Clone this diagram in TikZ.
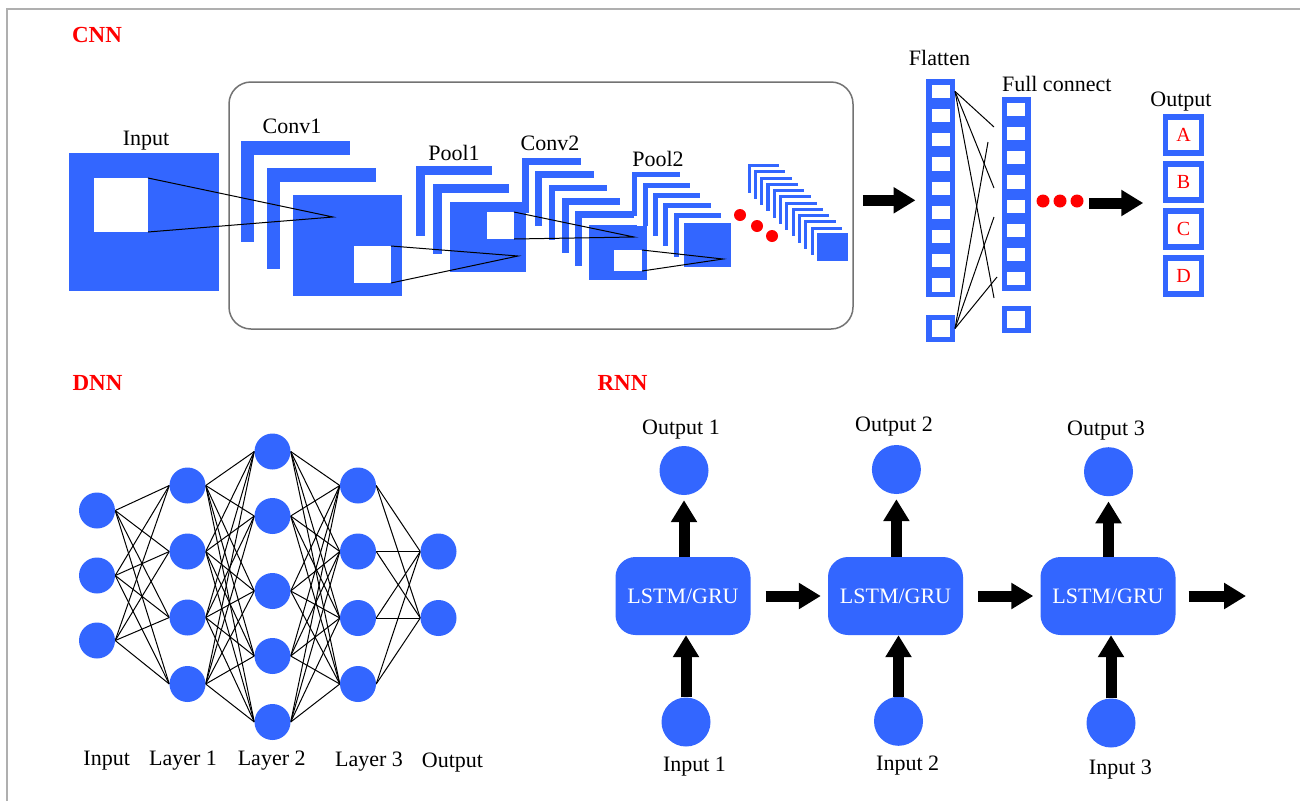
\documentclass[tikz,border=0pt]{standalone}
\usepackage{fontspec}
\setmainfont{Liberation Serif}
\usetikzlibrary{arrows.meta,backgrounds,positioning}

\definecolor{netblue}{RGB}{51,102,255}
\definecolor{netred}{RGB}{255,0,0}
\definecolor{framegray}{RGB}{115,115,115}
\definecolor{edgegray}{RGB}{175,175,175}
\newcommand{\labfont}{\fontsize{22}{26}\selectfont}

\tikzset{
    lbl/.style={font=\labfont, inner sep=0pt, anchor=base},
    ttl/.style={font=\fontsize{23}{27}\selectfont\bfseries, text=netred, inner sep=0pt},
    neuron/.style={circle, fill=netblue, minimum size=36pt, inner sep=0pt},
    unit/.style={circle, fill=netblue, minimum size=49pt, inner sep=0pt},
    cell/.style={draw=netblue, fill=white, line width=5.5pt, minimum width=23.5pt, minimum height=18.7pt, inner sep=0pt},
    outbox/.style={draw=netblue, line width=5.5pt, minimum size=36pt, inner sep=0pt, text=netred, font=\fontsize{20}{24}\selectfont},
    lstm/.style={fill=netblue, rounded corners=20pt, minimum width=135pt, minimum height=78pt, text=white, font=\labfont, inner sep=0pt},
    fat/.style={line width=11pt, -{Triangle[length=22pt,width=25pt]}},
    wire/.style={line width=1pt, black},
}

% stack of feature maps: x y w h dx dy n
\newcommand{\fmaps}[7]{%
    \foreach \k in {1,...,#7}{%
        \pgfmathsetmacro{\sx}{#1+(\k-1)*#5}%
        \pgfmathsetmacro{\sy}{#2+(\k-1)*#6}%
        \ifnum\k>1 \fill[white] (\sx-#5/2,\sy-#6/2) rectangle (\sx+#3,\sy+#4);\fi
        \fill[netblue] (\sx,\sy) rectangle (\sx+#3,\sy+#4);
    }%
}

\begin{document}
\begin{tikzpicture}[x=1pt,y=-1pt]
    \useasboundingbox (0,0) rectangle (1300,801);
    \begin{scope}[on background layer]
    \fill[white] (0,0) rectangle (1300,801);
    \end{scope}
    \draw[edgegray, line width=1.5pt] (7,801) -- (7,9) -- (1300,9);

    % CNN
    \node[ttl] (cnn) at (97,35) {CNN};
    \node[draw=framegray, line width=1.5pt, rounded corners=22pt, minimum width=624pt, minimum height=247pt, inner sep=0pt] (frame) at (541,205.5) {};

    \fill[netblue] (69,153) rectangle (219,291);
    \fill[white] (94,178) rectangle (148,232);
    \fmaps{241}{141}{109}{101}{26}{27}{3}
    \fill[white] (354,246) rectangle (391,283);
    \fmaps{416}{166}{76}{70}{17.2}{18}{3}
    \fill[white] (487,212) rectangle (514,239);
    \fmaps{522}{158}{58.5}{55}{13.3}{13.3}{6}
    \fill[white] (614,250) rectangle (642,271);
    \fmaps{632.3}{172.3}{47.5}{43.5}{10.3}{10.2}{6}
    \fmaps{747.5}{164}{31.5}{28.5}{6.3}{6.25}{12}

    \coordinate (inA) at (148,178);
    \coordinate (inB) at (148,232);
    \coordinate (c1tip) at (333,217);
    \coordinate (c1A) at (391,246);
    \coordinate (c1B) at (391,283);
    \coordinate (p1tip) at (518,256);
    \coordinate (p1A) at (514,212);
    \coordinate (p1B) at (514,239);
    \coordinate (c2tip) at (634,237);
    \coordinate (c2A) at (642,250);
    \coordinate (c2B) at (642,271);
    \coordinate (p2tip) at (723,259);
    \draw[wire] (inA) -- (c1tip) -- (inB);
    \draw[wire] (c1A) -- (p1tip) -- (c1B);
    \draw[wire] (p1A) -- (c2tip) -- (p1B);
    \draw[wire] (c2A) -- (p2tip) -- (c2B);

    \fill[netred] (740,215) circle (6pt);
    \fill[netred] (757,226) circle (6pt);
    \fill[netred] (772,236) circle (6pt);

    \node[lbl] (inlab) at (146,145) {Input};
    \node[lbl] (conv1) at (292,133.5) {Conv1};
    \node[lbl] (pool1) at (454,160.5) {Pool1};
    \node[lbl] (conv2) at (550,150.5) {Conv2};
    \node[lbl] (pool2) at (658,166) {Pool2};

    % flatten and fully connected columns
    \foreach \i in {1,...,9}
        \node[cell] (f\i) at (940.5,{91.4+(\i-1)*24.2}) {};
    \node[cell, minimum height=22pt] (f10) at (940.5,328.5) {};
    \foreach \i in {1,...,8}
        \node[cell] (c\i) at (1016.3,{109.4+(\i-1)*24.2}) {};
    \node[cell, minimum height=22pt] (c9) at (1016.3,319.5) {};
    \node[lbl] (flat) at (939.5,65) {Flatten};
    \node[lbl] (full) at (1056.7,91) {Full connect};

    \coordinate (w1) at (994,127);
    \coordinate (w2) at (994,188);
    \coordinate (w3) at (994,298);
    \coordinate (w4) at (988,142);
    \coordinate (w5) at (994,217);
    \coordinate (w6) at (997,277);
    \foreach \w in {w1,w2,w3} \draw[wire] (f1.east) -- (\w);
    \foreach \w in {w4,w5,w6} \draw[wire] (f10.east) -- (\w);

    \draw[fat, shorten <=9pt, shorten >=10.5pt] (frame.east |- f6.north west) -- (f6.north west);

    \fill[netred] (1043,201) circle (6.5pt);
    \fill[netred] (1060,201) circle (6.5pt);
    \fill[netred] (1077,201) circle (6.5pt);

    \node[outbox] (oa) at (1183.5,134.8) {A};
    \node[outbox] (ob) at (1183.5,181.8) {B};
    \node[outbox] (oc) at (1183.5,228.8) {C};
    \node[outbox] (od) at (1183.5,275.8) {D};
    \node[lbl] (outlab) at (1181,106.7) {Output};
    \coordinate (fcarr) at (1089,203);
    \draw[fat, shorten >=19.5pt] (fcarr) -- (fcarr -| ob.west);

    % DNN
    \node[ttl] (dnn) at (97.5,382.5) {DNN};
    \node[neuron] (x1) at (97,510.5) {};
    \node[neuron] (x2) at (97,575.5) {};
    \node[neuron] (x3) at (97,640.5) {};
    \node[neuron] (h1) at (187.5,485.5) {};
    \node[neuron] (h2) at (187.5,551.5) {};
    \node[neuron] (h3) at (187.5,617.5) {};
    \node[neuron] (h4) at (187.5,684) {};
    \node[neuron] (g1) at (272.5,451.5) {};
    \node[neuron] (g2) at (272.5,516) {};
    \node[neuron] (g3) at (272.5,591) {};
    \node[neuron] (g4) at (272.5,656) {};
    \node[neuron] (g5) at (272.5,722) {};
    \node[neuron] (k1) at (358,485.5) {};
    \node[neuron] (k2) at (358,551.5) {};
    \node[neuron] (k3) at (358,618) {};
    \node[neuron] (k4) at (358,684) {};
    \node[neuron] (y1) at (438.5,551.5) {};
    \node[neuron] (y2) at (438.5,618) {};
    \begin{scope}[on background layer]
    \foreach \i in {1,2,3} \foreach \j in {1,...,4} \draw[wire] (x\i.east) -- (h\j.west);
    \foreach \i in {1,...,4} \foreach \j in {1,...,5} \draw[wire] (h\i.east) -- (g\j.west);
    \foreach \i in {1,...,5} \foreach \j in {1,...,4} \draw[wire] (g\i.east) -- (k\j.west);
    \foreach \i in {1,...,4} \foreach \j in {1,2} \draw[wire] (k\i.east) -- (y\j.west);
    \end{scope}
    \node[lbl] (lx) at (106.7,765) {Input};
    \node[lbl] (lh) at (183,765) {Layer 1};
    \node[lbl] (lg) at (271.7,765) {Layer 2};
    \node[lbl] (lk) at (369,766.7) {Layer 3};
    \node[lbl] (ly) at (452.5,767) {Output};

    % RNN
    \node[ttl] (rnn) at (622.5,383) {RNN};
    \node[lstm] (l1) at (683,596) {LSTM/GRU};
    \node[lstm] (l2) at (895.5,596) {LSTM/GRU};
    \node[lstm] (l3) at (1108,596) {LSTM/GRU};
    \node[unit] (o1) at (684,470.5) {};
    \node[unit] (o2) at (896.4,469.5) {};
    \node[unit] (o3) at (1108.5,471.7) {};
    \node[unit] (i1) at (686,722) {};
    \node[unit] (i2) at (898.5,721.3) {};
    \node[unit] (i3) at (1111,723) {};
    \node[lbl] (lo1) at (681,434) {Output 1};
    \node[lbl] (lo2) at (894,431.7) {Output 2};
    \node[lbl] (lo3) at (1106,435.7) {Output 3};
    \node[lbl] (li1) at (694.5,771.7) {Input 1};
    \node[lbl] (li2) at (907.7,770) {Input 2};
    \node[lbl] (li3) at (1120.4,774.3) {Input 3};

    \foreach \n in {1,2,3} {
        \draw[fat, shorten >=5pt] (o\n.south |- l\n.north) -- (o\n.south);
        \draw[fat] (i\n.north) -- (i\n.north |- l\n.south);
    }
    \draw[fat, shorten <=15pt, shorten >=7pt] (l1.east) -- (l2.west);
    \draw[fat, shorten <=15pt, shorten >=7pt] (l2.east) -- (l3.west);
    \coordinate (rnnend) at (1246,596);
    \draw[fat, shorten <=13pt] (l3.east) -- (rnnend);
\end{tikzpicture}
\end{document}
